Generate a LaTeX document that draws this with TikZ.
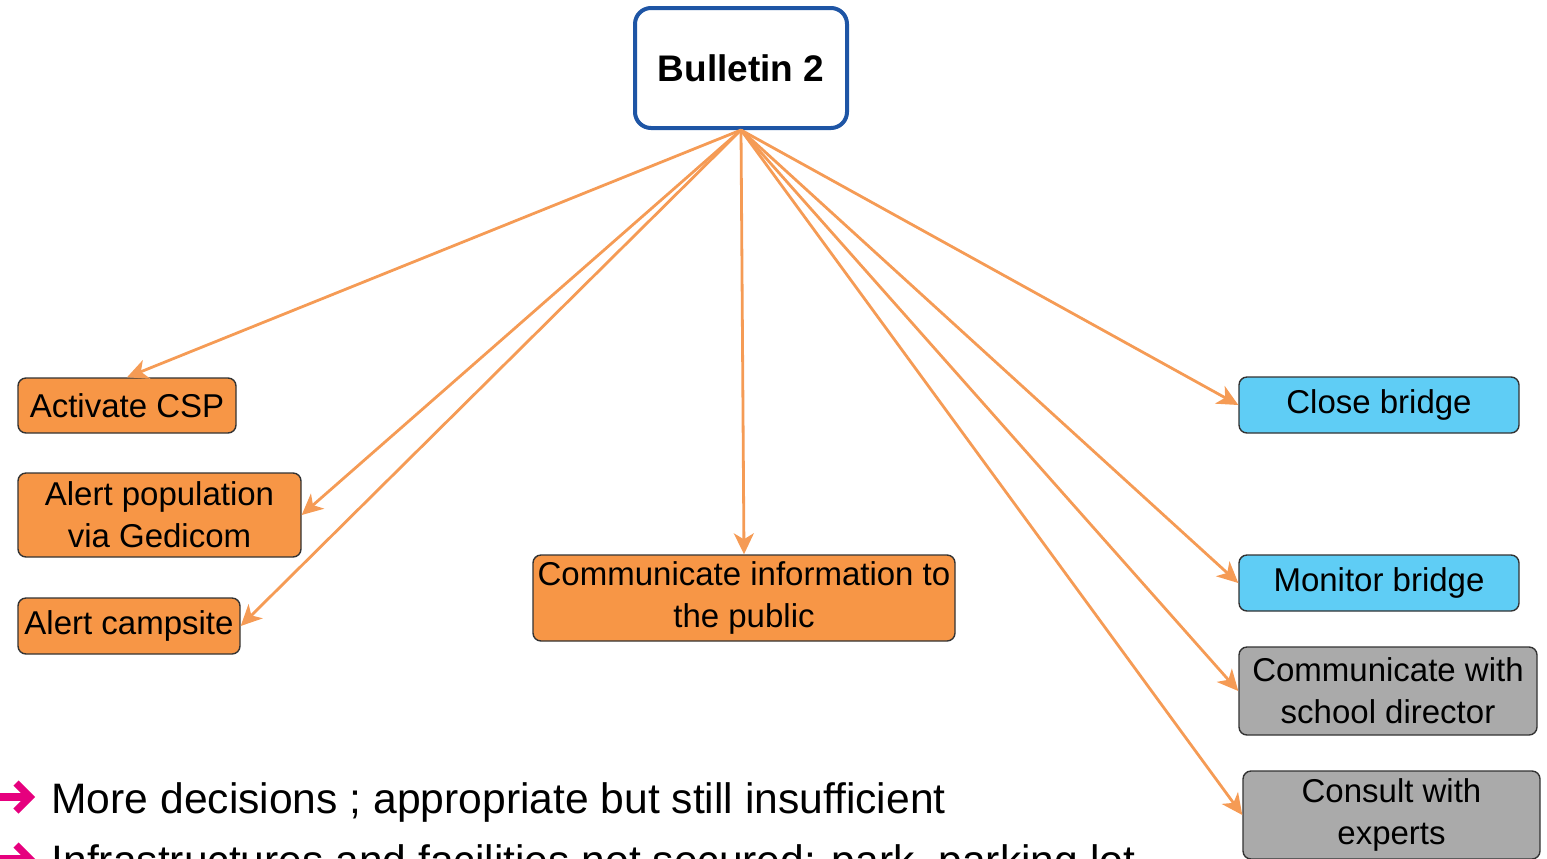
\documentclass[tikz,border=0pt]{standalone}
\usepackage{fontspec}
\setmainfont{Liberation Sans}
\usetikzlibrary{arrows.meta}

\definecolor{boxorange}{RGB}{247,150,70}
\definecolor{linkorange}{RGB}{245,155,85}
\definecolor{boxcyan}{RGB}{95,205,245}
\definecolor{boxgray}{RGB}{170,170,170}
\definecolor{bulblue}{RGB}{30,85,165}
\definecolor{bulpink}{RGB}{230,0,126}

\tikzset{every picture/.style={line width=0.5pt}}
\tikzset{
  task/.style={draw=black!80, rounded corners=4pt, line width=0.7pt, inner sep=0pt,
    align=center, font=\fontsize{16.5}{21}\selectfont},
  link/.style={draw=linkorange, line width=1.4pt, -{Stealth[length=10.5pt,width=10pt,inset=3pt]}},
  remark/.style={anchor=base west, inner sep=0pt, font=\fontsize{21.3}{25}\selectfont},
  pointer/.style={draw=bulpink, line width=3.6pt},
}

\begin{document}
\begin{tikzpicture}[x=0.5pt,y=0.5pt,yscale=-1,xscale=1]
\useasboundingbox (0,0) rectangle (1547,858);

%Shape: Rounded Rect [id:bulletin]
\node[draw=bulblue, line width=2pt, rounded corners=8pt, fill=white,
  minimum width=106pt, minimum height=60pt, font=\bfseries\fontsize{18.5}{22}\selectfont]
  (bul) at (741,68) {Bulletin 2};

%Shape: Rounded Rect [id:left column]
\node[task, fill=boxorange, minimum width=109pt, minimum height=27.5pt] (csp) at (127,405.5) {Activate CSP};
\node[task, fill=boxorange, minimum width=141.5pt, minimum height=42pt] (pop) at (159.5,515) {Alert population\\via Gedicom};
\node[task, fill=boxorange, minimum width=111pt, minimum height=28pt] (camp) at (129,626) {Alert campsite};

%Shape: Rounded Rect [id:middle]
\node[task, fill=boxorange, minimum width=211pt, minimum height=43pt] (pub) at (744,598) {Communicate information to\\the public};

%Shape: Rounded Rect [id:right column]
\node[task, fill=boxcyan, minimum width=140pt, minimum height=28pt] (close) at (1379,405) {Close bridge};
\node[task, fill=boxcyan, minimum width=140pt, minimum height=28pt] (mon) at (1379,583) {Monitor bridge};
\node[task, fill=boxgray, minimum width=149pt, minimum height=44pt] (school) at (1388,691) {Communicate with\\school director};
\node[task, fill=boxgray, minimum width=148.5pt, minimum height=44pt] (expert) at (1391.5,815) {Consult with\\experts};

%Straight Lines
\draw[link] (bul.south) -- (csp.north);
\draw[link] (bul.south) -- (pop.east);
\draw[link] (bul.south) -- (camp.east);
\draw[link] (bul.south) -- (pub.north);
\draw[link] (bul.south) -- (close.west);
\draw[link] (bul.south) -- (mon.west);
\draw[link] (bul.south) -- (school.west);
\draw[link] (bul.south) -- (expert.west);

% Text Node
\node[remark] (note1) at (51,813) {More decisions ; appropriate but still insufficient};
\draw[pointer] (0,797) -- (26,797);
\draw[pointer, line cap=butt] (16,783) -- (30,797) -- (16,811);
% Text Node
\node[remark] (note2) at (51,875) {Infrastructures and facilities not secured: park, parking lot};
\draw[pointer] (0,859) -- (26,859);
\draw[pointer, line cap=butt] (16,845) -- (30,859) -- (16,873);

\end{tikzpicture}
\end{document}
